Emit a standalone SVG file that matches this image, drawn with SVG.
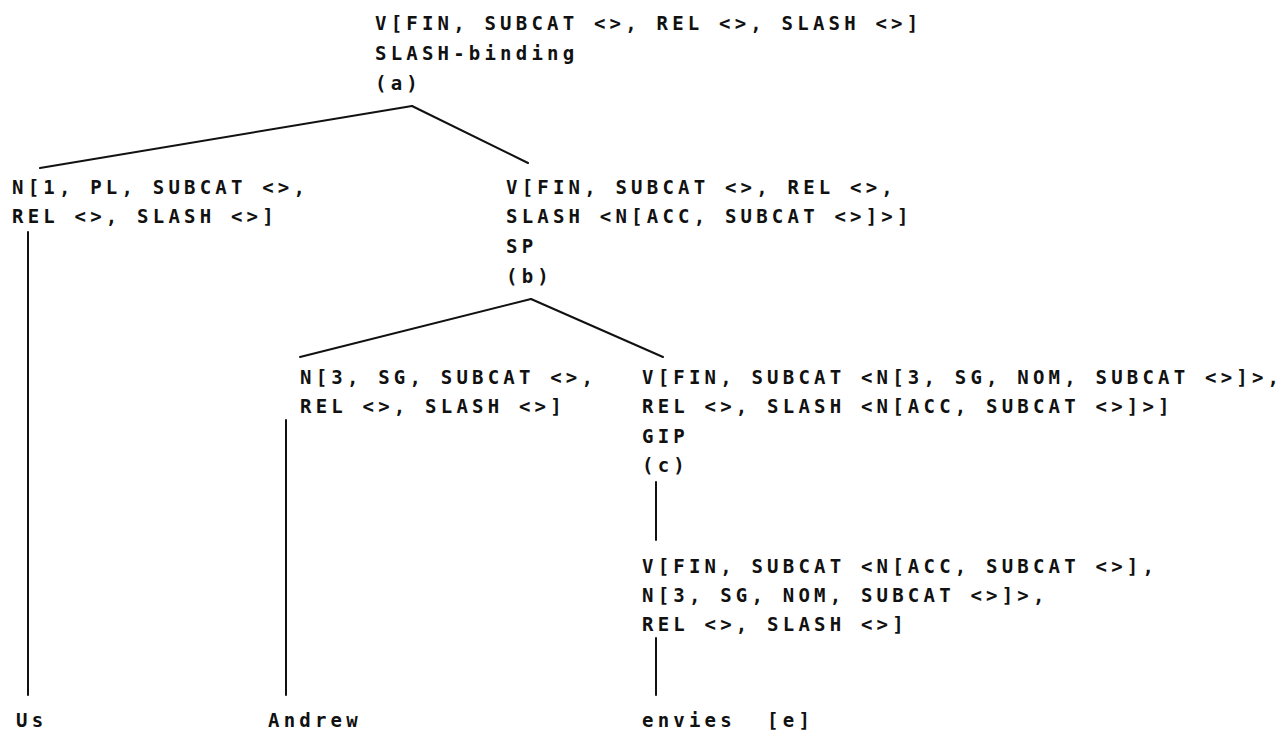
<svg xmlns="http://www.w3.org/2000/svg" width="1285" height="731" viewBox="0 0 1285 731">
<style>
text{font-family:"DejaVu Sans Mono","Liberation Mono",monospace;font-size:19px;font-weight:bold;letter-spacing:4.2px;fill:#111;white-space:pre}
.e{stroke:#111;stroke-width:2;fill:none;stroke-linecap:round}
</style>
<rect width="1285" height="731" fill="#fff"/>
<g id="connectors">
<line class="e" x1="412" y1="106" x2="40" y2="168"/>
<line class="e" x1="412" y1="106" x2="528" y2="163"/>
<line class="e" x1="531" y1="299" x2="300" y2="357"/>
<line class="e" x1="531" y1="299" x2="663" y2="357"/>
<line class="e" x1="28" y1="232" x2="28" y2="695"/>
<line class="e" x1="286" y1="420" x2="286" y2="695"/>
<line class="e" x1="656" y1="482" x2="656" y2="540"/>
<line class="e" x1="656" y1="638" x2="656" y2="695"/>
</g>
<g id="node-a">
<text x="375" y="30">V[FIN, SUBCAT &lt;&gt;, REL &lt;&gt;, SLASH &lt;&gt;]</text>
<text x="375" y="60">SLASH-binding</text>
<text x="375" y="90">(a)</text>
</g>
<g id="node-n1">
<text x="12" y="194">N[1, PL, SUBCAT &lt;&gt;,</text>
<text x="12" y="223">REL &lt;&gt;, SLASH &lt;&gt;]</text>
</g>
<g id="node-b">
<text x="506" y="194">V[FIN, SUBCAT &lt;&gt;, REL &lt;&gt;,</text>
<text x="506" y="223">SLASH &lt;N[ACC, SUBCAT &lt;&gt;]&gt;]</text>
<text x="506" y="253">SP</text>
<text x="506" y="283">(b)</text>
</g>
<g id="node-n3">
<text x="300" y="384">N[3, SG, SUBCAT &lt;&gt;,</text>
<text x="300" y="413">REL &lt;&gt;, SLASH &lt;&gt;]</text>
</g>
<g id="node-c">
<text x="642" y="384">V[FIN, SUBCAT &lt;N[3, SG, NOM, SUBCAT &lt;&gt;]&gt;,</text>
<text x="642" y="413">REL &lt;&gt;, SLASH &lt;N[ACC, SUBCAT &lt;&gt;]&gt;]</text>
<text x="642" y="443">GIP</text>
<text x="642" y="472">(c)</text>
</g>
<g id="node-v">
<text x="642" y="573">V[FIN, SUBCAT &lt;N[ACC, SUBCAT &lt;&gt;],</text>
<text x="642" y="602">N[3, SG, NOM, SUBCAT &lt;&gt;]&gt;,</text>
<text x="642" y="631">REL &lt;&gt;, SLASH &lt;&gt;]</text>
</g>
<g id="leaf-us"><text x="16" y="727">Us</text></g>
<g id="leaf-andrew"><text x="268" y="727">Andrew</text></g>
<g id="leaf-envies"><text x="642" y="727">envies  [e]</text></g>
</svg>
